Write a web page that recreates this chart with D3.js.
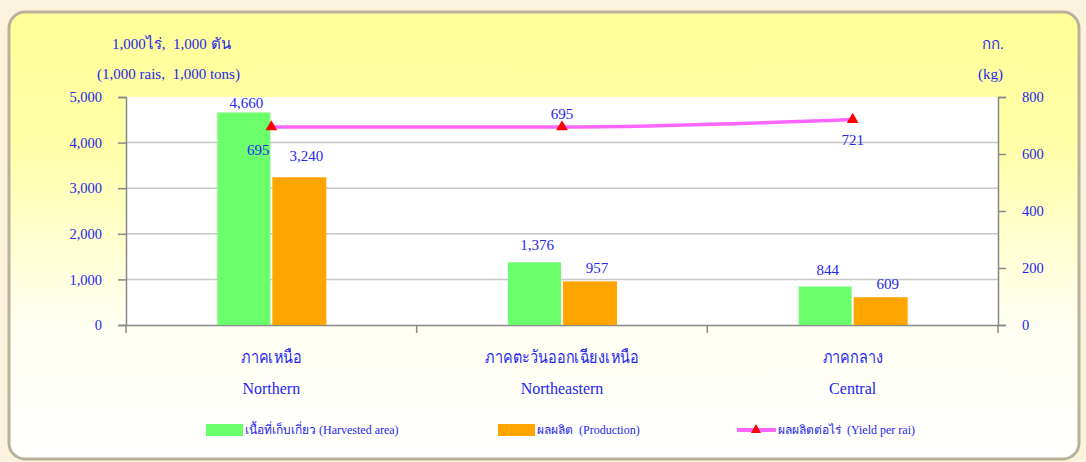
<!DOCTYPE html>
<html><head><meta charset="utf-8">
<script src="https://cdn.jsdelivr.net/npm/d3@7"></script>
<style>
html,body{margin:0;padding:0;background:#FCF3DC;}
svg{display:block;}
text{font-family:"Liberation Serif","Times New Roman",serif;fill:#2626EE;}
</style></head>
<body>
<svg id="chart" width="1086" height="462"></svg>
<script>
const categoriesTh = ["ภาคเหนือ", "ภาคตะวันออกเฉียงเหนือ", "ภาคกลาง"];
const categoriesEn = ["Northern", "Northeastern", "Central"];
const harvested = [4660, 1376, 844];
const production = [3240, 957, 609];
const yieldPerRai = [695, 695, 721];
const yieldLabelPlace = ["belowLeft", "above", "below"];
const leftTicks = [0, 1000, 2000, 3000, 4000, 5000];
const rightTicks = [0, 200, 400, 600, 800];
const seriesNames = ["เนื้อที่เก็บเกี่ยว (Harvested area)", "ผลผลิต  (Production)", "ผลผลิตต่อไร่  (Yield per rai)"];

const svg = d3.select("#chart");
const defs = svg.append("defs");
const g1 = defs.append("linearGradient").attr("id","panelGrad").attr("x1",0).attr("y1",0).attr("x2",0).attr("y2",1);
g1.append("stop").attr("offset","0%").attr("stop-color","#FFFF99");
g1.append("stop").attr("offset","30%").attr("stop-color","#FFFFA8");
g1.append("stop").attr("offset","70%").attr("stop-color","#FFFFF2");
g1.append("stop").attr("offset","100%").attr("stop-color","#FFFFFF");

// panel
svg.append("rect").attr("x",9).attr("y",12).attr("width",1070).attr("height",447)
  .attr("rx",16).attr("ry",16).attr("fill","url(#panelGrad)")
  .attr("stroke","#B8B29A").attr("stroke-width",3);

const L = 126, R = 998, T = 97, B = 325;
svg.append("rect").attr("x",L).attr("y",T).attr("width",R-L).attr("height",B-T).attr("fill","#FFFFFF");

const x = d3.scaleBand().domain(categoriesEn).range([L, R]).paddingInner(0).paddingOuter(0);
const yL = d3.scaleLinear().domain([0, 5000]).range([B, T]);
const yR = d3.scaleLinear().domain([0, 800]).range([B, T]);
const barW = 54;

// gridlines
svg.append("g").selectAll("line").data(leftTicks.filter(d => d > 0 && d < 5000)).join("line")
  .attr("x1", L).attr("x2", R).attr("y1", d => yL(d)).attr("y2", d => yL(d))
  .attr("stroke","#C8C8C8").attr("stroke-width",1.5);

const axL = svg.append("g").attr("transform",`translate(${L},0)`)
  .call(d3.axisLeft(yL).tickValues(leftTicks).tickFormat(d3.format(",")).tickSize(8).tickPadding(16));
const axR = svg.append("g").attr("transform",`translate(${R},0)`)
  .call(d3.axisRight(yR).tickValues(rightTicks).tickFormat(d3.format("d")).tickSize(8).tickPadding(16));
const axB = svg.append("g").attr("transform",`translate(0,${B})`)
  .call(d3.axisBottom(x).tickSize(0).tickFormat(""));
[axL, axR, axB].forEach(a => {
  a.select(".domain").attr("stroke","#888888").attr("stroke-width",1.5);
  a.selectAll(".tick line").attr("stroke","#888888").attr("stroke-width",1.5);
  a.selectAll(".tick text").style("font-family","Liberation Serif").style("font-size","14.5px").attr("fill","#2626EE");
});
axR.selectAll(".tick text").attr("text-anchor","start");
const bounds = categoriesEn.map(c => x(c)).concat([R]);
svg.append("g").selectAll("line").data(bounds).join("line")
  .attr("x1", d => d).attr("x2", d => d).attr("y1", B).attr("y2", B + 8)
  .attr("stroke","#888888").attr("stroke-width",1.5);

// bars
const cx = c => x(c) + x.bandwidth() / 2;
svg.append("g").selectAll("rect").data(harvested).join("rect")
  .attr("x", (d,i) => cx(categoriesEn[i]) - barW).attr("width", barW - 1)
  .attr("y", d => yL(d)).attr("height", d => B - yL(d)).attr("fill","#6CFF6C");
svg.append("g").selectAll("rect").data(production).join("rect")
  .attr("x", (d,i) => cx(categoriesEn[i]) + 1).attr("width", barW)
  .attr("y", d => yL(d)).attr("height", d => B - yL(d)).attr("fill","#FFA500");

// bar labels
const fmt = d3.format(",");
svg.append("g").selectAll("text").data(harvested).join("text")
  .attr("x", (d,i) => cx(categoriesEn[i]) - barW/2 + 2).attr("y", (d,i) => yL(d) - (i === 0 ? 5 : 12))
  .attr("text-anchor","middle").style("font-size","15px").text(d => fmt(d));
svg.append("g").selectAll("text").data(production).join("text")
  .attr("x", (d,i) => cx(categoriesEn[i]) + barW/2 + 8).attr("y", (d,i) => yL(d) - (i === 0 ? 16 : 8))
  .attr("text-anchor","middle").style("font-size","15px").text(d => fmt(d));

// yield line
const line = d3.line().x((d,i) => cx(categoriesEn[i])).y(d => yR(d)).curve(d3.curveMonotoneX);
svg.append("path").datum(yieldPerRai).attr("d", line).attr("fill","none")
  .attr("stroke","#FF66FF").attr("stroke-width",3.5);
const tri = d3.symbol().type(d3.symbolTriangle).size(60);
svg.append("g").selectAll("path").data(yieldPerRai).join("path")
  .attr("d", tri).attr("transform", (d,i) => `translate(${cx(categoriesEn[i])},${yR(d)})`)
  .attr("fill","#FF0000");
svg.append("g").selectAll("text").data(yieldPerRai).join("text")
  .attr("x", (d,i) => cx(categoriesEn[i]) + (yieldLabelPlace[i] === "belowLeft" ? -13 : 0))
  .attr("y", (d,i) => yR(d) + (yieldLabelPlace[i] === "above" ? -8 : (yieldLabelPlace[i] === "belowLeft" ? 28 : 25)))
  .attr("text-anchor","middle").style("font-size","15px").text(d => d);

// category labels
svg.append("g").selectAll("text").data(categoriesTh).join("text")
  .attr("x", (d,i) => cx(categoriesEn[i])).attr("y", 363)
  .attr("text-anchor","middle").style("font-family","'Noto Sans'").style("font-size","18px")
  .attr("transform-origin", (d,i) => `${cx(categoriesEn[i])} 363`)
  .attr("transform","scale(0.8,1)").text(d => d);
svg.append("g").selectAll("text").data(categoriesEn).join("text")
  .attr("x", (d,i) => cx(categoriesEn[i])).attr("y", 394)
  .attr("text-anchor","middle").style("font-size","16px").text(d => d);

// unit labels
svg.append("text").attr("x", 112).attr("y", 49).style("font-size","15px").attr("xml:space","preserve").text("1,000ไร่,  1,000 ตัน");
svg.append("text").attr("x", 97).attr("y", 79).style("font-size","15px").attr("xml:space","preserve").text("(1,000 rais,  1,000 tons)");
svg.append("text").attr("x", 982).attr("y", 49).style("font-size","15px").text("กก.");
svg.append("text").attr("x", 978).attr("y", 79).style("font-size","15px").text("(kg)");

// legend
const lg = svg.append("g");
lg.append("rect").attr("x",206).attr("y",424).attr("width",37).attr("height",12).attr("fill","#6CFF6C");
lg.append("text").attr("x",245).attr("y",434).style("font-size","12px").text(seriesNames[0]);
lg.append("rect").attr("x",498).attr("y",424).attr("width",37).attr("height",12).attr("fill","#FFA500");
lg.append("text").attr("x",537).attr("y",434).style("font-size","12px").attr("xml:space","preserve").text(seriesNames[1]);
lg.append("line").attr("x1",737).attr("x2",776).attr("y1",430).attr("y2",430).attr("stroke","#FF66FF").attr("stroke-width",4);
lg.append("path").attr("d", d3.symbol().type(d3.symbolTriangle).size(45)).attr("transform","translate(756,430)").attr("fill","#FF0000");
lg.append("text").attr("x",778).attr("y",434).style("font-size","12px").attr("xml:space","preserve").text(seriesNames[2]);
</script>
</body></html>
